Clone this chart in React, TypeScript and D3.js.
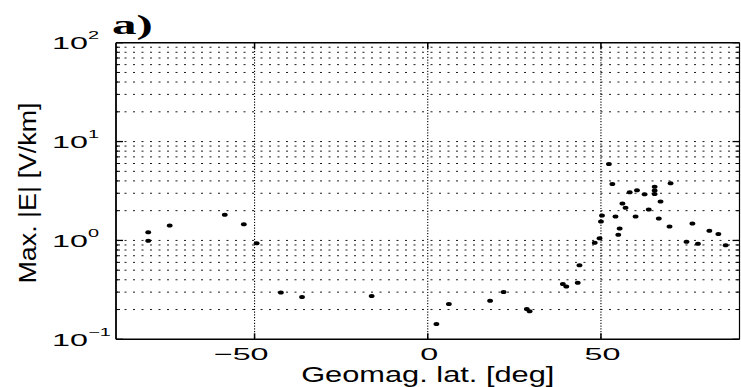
import React from "react";
import * as d3 from "d3";

const lat: number[] = [
  -80.7, -80.7, -74.5, -58.6, -53.1, -49.4, -42.4, -36.3, -16.2, 2.5, 6.1, 18.0,
  21.9, 28.6, 29.4, 39.0, 40.0, 43.3, 43.8, 48.2, 49.6, 50.0, 50.3, 52.3, 53.3,
  54.2, 55.0, 55.4, 56.2, 57.1, 58.3, 60.0, 60.4, 62.6, 63.8, 65.5, 65.5, 65.5,
  66.7, 67.2, 69.8, 70.1, 74.7, 76.4, 78.0, 81.3, 83.9, 86.0,
];
const maxE: number[] = [
  1.21, 0.99, 1.42, 1.82, 1.46, 0.935, 0.297, 0.268, 0.274, 0.143, 0.227, 0.245,
  0.301, 0.202, 0.192, 0.362, 0.342, 0.373, 0.56, 0.948, 1.05, 1.55, 1.79, 5.93, 3.72,
  1.75, 1.14, 1.32, 2.37, 2.14, 3.08, 1.75, 3.21, 2.93, 2.05, 3.49, 3.2, 2.95,
  1.67, 2.47, 1.38, 3.79, 0.97, 1.48, 0.925, 1.25, 1.16, 0.893,
];
const xTicks: number[] = [-50, 0, 50];
const yExps: number[] = [-1, 0, 1, 2];
const panelLabel = "a)";
const xLabel = "Geomag. lat. [deg]";
const yLabel = "Max. |E| [V/km]";

const W = 741;
const H = 387;
const L = 116;
const R = 739.5;
const T = 42.7;
const B = 339.3;

export default function App() {
  const x = d3.scaleLinear().domain([-90, 90]).range([L, R]);
  const y = d3.scaleLog().domain([0.1, 100]).range([B, T]);

  const gridVals: number[] = [];
  for (let e = -1; e < 2; e++) {
    for (let m = 1; m <= 9; m++) {
      const v = m * Math.pow(10, e);
      if (v > 0.1) gridVals.push(v);
    }
  }
  const minorVals = gridVals.filter((v) => !yExps.some((e) => Math.abs(Math.pow(10, e) - v) < 1e-9));
  const majorVals = yExps.map((e) => Math.pow(10, e));

  const font = "'Liberation Sans', Arial, Helvetica, sans-serif";
  const sx = 1.9;

  return (
    <svg
      width={W}
      height={H}
      style={{ position: "absolute", left: 0, top: 0, background: "#fff" }}
      xmlns="http://www.w3.org/2000/svg"
    >
      <rect x={0} y={0} width={W} height={H} fill="#fff" />
      {gridVals.map((v, i) => (
        <line
          key={"hg" + i}
          x1={L}
          x2={R}
          y1={y(v)}
          y2={y(v)}
          stroke="#000"
          strokeWidth={1}
          strokeDasharray="2 6.5"
          strokeOpacity={0.9}
        />
      ))}
      {xTicks.map((t) => (
        <line
          key={"vg" + t}
          x1={x(t)}
          x2={x(t)}
          y1={T}
          y2={B}
          stroke="#000"
          strokeWidth={1.1}
          strokeDasharray="1.2 1.6"
        />
      ))}
      {majorVals.map((v, i) => (
        <g key={"ymt" + i}>
          <line x1={L} x2={L + 7} y1={y(v)} y2={y(v)} stroke="#000" strokeWidth={1.3} />
          <line x1={R} x2={R - 7} y1={y(v)} y2={y(v)} stroke="#000" strokeWidth={1.3} />
        </g>
      ))}
      {minorVals.map((v, i) => (
        <g key={"ynt" + i}>
          <line x1={L} x2={L + 4} y1={y(v)} y2={y(v)} stroke="#000" strokeWidth={1} />
          <line x1={R} x2={R - 4} y1={y(v)} y2={y(v)} stroke="#000" strokeWidth={1} />
        </g>
      ))}
      {xTicks.map((t) => (
        <g key={"xt" + t}>
          <line x1={x(t)} x2={x(t)} y1={B} y2={B - 6} stroke="#000" strokeWidth={1.5} />
          <line x1={x(t)} x2={x(t)} y1={T} y2={T + 6} stroke="#000" strokeWidth={1.5} />
        </g>
      ))}
      <line x1={L} x2={R} y1={T} y2={T} stroke="#000" strokeWidth={1.6} />
      <line x1={L} x2={R} y1={B} y2={B} stroke="#000" strokeWidth={1.6} />
      <line x1={L} x2={L} y1={T} y2={B} stroke="#000" strokeWidth={1.8} />
      <line x1={R} x2={R} y1={T} y2={B} stroke="#000" strokeWidth={1.2} />
      {lat.map((la, i) => (
        <ellipse key={"p" + i} cx={x(la)} cy={y(maxE[i])} rx={2.9} ry={2} fill="#000" />
      ))}
      {xTicks.map((t) => (
        <g key={"xl" + t} transform={`translate(${t < 0 ? x(t) + 14 : x(t) + 1.5},${B + 21}) scale(${sx},1)`}>
          <text textAnchor={t < 0 ? "end" : "middle"} fontFamily={font} fontSize={17} fill="#000">
            {t < 0 ? "\u2212" + Math.abs(t) : String(t)}
          </text>
        </g>
      ))}
      {yExps.map((e) => (
        <g key={"yl" + e}>
          <g transform={`translate(88,${y(Math.pow(10, e)) + 6.2}) scale(${sx},1)`}>
            <text textAnchor="end" fontFamily={font} fontSize={17} fill="#000">
              10
            </text>
          </g>
          <g transform={`translate(88,${y(Math.pow(10, e)) - 3.5}) scale(${sx},1)`}>
            <text textAnchor="start" fontFamily={font} fontSize={10.5} fill="#000">
              {e < 0 ? "\u2212" + Math.abs(e) : String(e)}
            </text>
          </g>
        </g>
      ))}
      <g transform={`translate(${(L + R) / 2},382) scale(1.4,1)`}>
        <text textAnchor="middle" fontFamily={font} fontSize={22} fill="#000">
          {xLabel}
        </text>
      </g>
      <g transform={`translate(36,${(T + B) / 2 + 2}) rotate(-90) scale(1.12,1)`}>
        <text textAnchor="middle" fontFamily={font} fontSize={24} fill="#000">
          {yLabel}
        </text>
      </g>
      <g transform={`translate(112,34) scale(1.75,1)`}>
        <text
          textAnchor="start"
          fontFamily="'Liberation Serif', 'Times New Roman', serif"
          fontWeight="bold"
          fontSize={28}
          fill="#000"
        >
          {panelLabel}
        </text>
      </g>
    </svg>
  );
}
